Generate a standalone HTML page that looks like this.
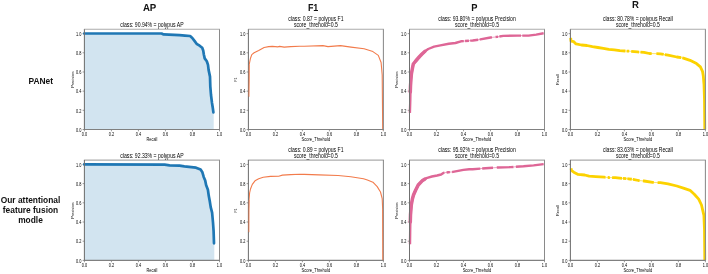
<!DOCTYPE html><html><head><meta charset="utf-8"><style>html,body{margin:0;padding:0;background:#fff;width:708px;height:274px;overflow:hidden}svg{display:block;filter:blur(0.25px)}text{font-family:"Liberation Sans",sans-serif}</style></head><body>
<svg width="708" height="274" viewBox="0 0 708 274">
<rect width="708" height="274" fill="#fff"/>
<polygon points="84.2,129.5 84.2,33.5 161.6,33.5 163.6,34.4 179.5,35.1 185,35.6 190.1,36 192.3,38 194.5,40.9 196.6,43.8 199.6,45.7 202.2,47.8 203.2,50.4 203.9,54.7 204.7,58.4 206.8,61.3 208,64.9 208.6,69.9 210,76.6 210.3,86.3 211,95 212,103 212.8,108 213.4,112.4 213.7,112.4 213.7,129.5" fill="#d2e4f0"/>
<polygon points="84.2,260.4 84.2,164.4 164.6,164.6 169.6,165.4 179.5,165.7 184.4,166.4 191.3,167.1 196,167.7 200.6,169.6 202.4,172.3 203.7,176.9 205.2,180.6 206.1,185.1 207.9,189.7 208.8,196.1 209.7,200.7 210.7,207.1 212.1,212.6 213,222.5 213.6,231.2 214,243.3 214.3,243.3 214.3,260.4" fill="#d2e4f0"/>
<line x1="84.4" y1="129.5" x2="84.4" y2="131.3" stroke="#707070" stroke-width="0.7"/>
<line x1="82.6" y1="129.5" x2="84.4" y2="129.5" stroke="#707070" stroke-width="0.7"/>
<text x="84.4" y="135.9" font-size="4.8" text-anchor="middle" textLength="5.4" lengthAdjust="spacingAndGlyphs" fill="#000">0.0</text>
<text x="81.4" y="131.7" font-size="4.8" text-anchor="end" textLength="5.4" lengthAdjust="spacingAndGlyphs" fill="#000">0.0</text>
<line x1="111.42" y1="129.5" x2="111.42" y2="131.3" stroke="#707070" stroke-width="0.7"/>
<line x1="82.6" y1="110.32" x2="84.4" y2="110.32" stroke="#707070" stroke-width="0.7"/>
<text x="111.42" y="135.9" font-size="4.8" text-anchor="middle" textLength="5.4" lengthAdjust="spacingAndGlyphs" fill="#000">0.2</text>
<text x="81.4" y="112.52" font-size="4.8" text-anchor="end" textLength="5.4" lengthAdjust="spacingAndGlyphs" fill="#000">0.2</text>
<line x1="138.44" y1="129.5" x2="138.44" y2="131.3" stroke="#707070" stroke-width="0.7"/>
<line x1="82.6" y1="91.15" x2="84.4" y2="91.15" stroke="#707070" stroke-width="0.7"/>
<text x="138.44" y="135.9" font-size="4.8" text-anchor="middle" textLength="5.4" lengthAdjust="spacingAndGlyphs" fill="#000">0.4</text>
<text x="81.4" y="93.35" font-size="4.8" text-anchor="end" textLength="5.4" lengthAdjust="spacingAndGlyphs" fill="#000">0.4</text>
<line x1="165.46" y1="129.5" x2="165.46" y2="131.3" stroke="#707070" stroke-width="0.7"/>
<line x1="82.6" y1="71.97" x2="84.4" y2="71.97" stroke="#707070" stroke-width="0.7"/>
<text x="165.46" y="135.9" font-size="4.8" text-anchor="middle" textLength="5.4" lengthAdjust="spacingAndGlyphs" fill="#000">0.6</text>
<text x="81.4" y="74.17" font-size="4.8" text-anchor="end" textLength="5.4" lengthAdjust="spacingAndGlyphs" fill="#000">0.6</text>
<line x1="192.48" y1="129.5" x2="192.48" y2="131.3" stroke="#707070" stroke-width="0.7"/>
<line x1="82.6" y1="52.79" x2="84.4" y2="52.79" stroke="#707070" stroke-width="0.7"/>
<text x="192.48" y="135.9" font-size="4.8" text-anchor="middle" textLength="5.4" lengthAdjust="spacingAndGlyphs" fill="#000">0.8</text>
<text x="81.4" y="54.99" font-size="4.8" text-anchor="end" textLength="5.4" lengthAdjust="spacingAndGlyphs" fill="#000">0.8</text>
<line x1="219.5" y1="129.5" x2="219.5" y2="131.3" stroke="#707070" stroke-width="0.7"/>
<line x1="82.6" y1="33.61" x2="84.4" y2="33.61" stroke="#707070" stroke-width="0.7"/>
<text x="219.5" y="135.9" font-size="4.8" text-anchor="middle" textLength="5.4" lengthAdjust="spacingAndGlyphs" fill="#000">1.0</text>
<text x="81.4" y="35.81" font-size="4.8" text-anchor="end" textLength="5.4" lengthAdjust="spacingAndGlyphs" fill="#000">1.0</text>
<line x1="84.4" y1="260.4" x2="84.4" y2="262.2" stroke="#707070" stroke-width="0.7"/>
<line x1="82.6" y1="260.4" x2="84.4" y2="260.4" stroke="#707070" stroke-width="0.7"/>
<text x="84.4" y="266.8" font-size="4.8" text-anchor="middle" textLength="5.4" lengthAdjust="spacingAndGlyphs" fill="#000">0.0</text>
<text x="81.4" y="262.6" font-size="4.8" text-anchor="end" textLength="5.4" lengthAdjust="spacingAndGlyphs" fill="#000">0.0</text>
<line x1="111.42" y1="260.4" x2="111.42" y2="262.2" stroke="#707070" stroke-width="0.7"/>
<line x1="82.6" y1="241.2" x2="84.4" y2="241.2" stroke="#707070" stroke-width="0.7"/>
<text x="111.42" y="266.8" font-size="4.8" text-anchor="middle" textLength="5.4" lengthAdjust="spacingAndGlyphs" fill="#000">0.2</text>
<text x="81.4" y="243.4" font-size="4.8" text-anchor="end" textLength="5.4" lengthAdjust="spacingAndGlyphs" fill="#000">0.2</text>
<line x1="138.44" y1="260.4" x2="138.44" y2="262.2" stroke="#707070" stroke-width="0.7"/>
<line x1="82.6" y1="222.01" x2="84.4" y2="222.01" stroke="#707070" stroke-width="0.7"/>
<text x="138.44" y="266.8" font-size="4.8" text-anchor="middle" textLength="5.4" lengthAdjust="spacingAndGlyphs" fill="#000">0.4</text>
<text x="81.4" y="224.21" font-size="4.8" text-anchor="end" textLength="5.4" lengthAdjust="spacingAndGlyphs" fill="#000">0.4</text>
<line x1="165.46" y1="260.4" x2="165.46" y2="262.2" stroke="#707070" stroke-width="0.7"/>
<line x1="82.6" y1="202.81" x2="84.4" y2="202.81" stroke="#707070" stroke-width="0.7"/>
<text x="165.46" y="266.8" font-size="4.8" text-anchor="middle" textLength="5.4" lengthAdjust="spacingAndGlyphs" fill="#000">0.6</text>
<text x="81.4" y="205.01" font-size="4.8" text-anchor="end" textLength="5.4" lengthAdjust="spacingAndGlyphs" fill="#000">0.6</text>
<line x1="192.48" y1="260.4" x2="192.48" y2="262.2" stroke="#707070" stroke-width="0.7"/>
<line x1="82.6" y1="183.62" x2="84.4" y2="183.62" stroke="#707070" stroke-width="0.7"/>
<text x="192.48" y="266.8" font-size="4.8" text-anchor="middle" textLength="5.4" lengthAdjust="spacingAndGlyphs" fill="#000">0.8</text>
<text x="81.4" y="185.82" font-size="4.8" text-anchor="end" textLength="5.4" lengthAdjust="spacingAndGlyphs" fill="#000">0.8</text>
<line x1="219.5" y1="260.4" x2="219.5" y2="262.2" stroke="#707070" stroke-width="0.7"/>
<line x1="82.6" y1="164.42" x2="84.4" y2="164.42" stroke="#707070" stroke-width="0.7"/>
<text x="219.5" y="266.8" font-size="4.8" text-anchor="middle" textLength="5.4" lengthAdjust="spacingAndGlyphs" fill="#000">1.0</text>
<text x="81.4" y="166.62" font-size="4.8" text-anchor="end" textLength="5.4" lengthAdjust="spacingAndGlyphs" fill="#000">1.0</text>
<line x1="248.4" y1="129.5" x2="248.4" y2="131.3" stroke="#707070" stroke-width="0.7"/>
<line x1="246.6" y1="129.5" x2="248.4" y2="129.5" stroke="#707070" stroke-width="0.7"/>
<text x="248.4" y="135.9" font-size="4.8" text-anchor="middle" textLength="5.4" lengthAdjust="spacingAndGlyphs" fill="#000">0.0</text>
<text x="245.4" y="131.7" font-size="4.8" text-anchor="end" textLength="5.4" lengthAdjust="spacingAndGlyphs" fill="#000">0.0</text>
<line x1="275.4" y1="129.5" x2="275.4" y2="131.3" stroke="#707070" stroke-width="0.7"/>
<line x1="246.6" y1="110.32" x2="248.4" y2="110.32" stroke="#707070" stroke-width="0.7"/>
<text x="275.4" y="135.9" font-size="4.8" text-anchor="middle" textLength="5.4" lengthAdjust="spacingAndGlyphs" fill="#000">0.2</text>
<text x="245.4" y="112.52" font-size="4.8" text-anchor="end" textLength="5.4" lengthAdjust="spacingAndGlyphs" fill="#000">0.2</text>
<line x1="302.4" y1="129.5" x2="302.4" y2="131.3" stroke="#707070" stroke-width="0.7"/>
<line x1="246.6" y1="91.15" x2="248.4" y2="91.15" stroke="#707070" stroke-width="0.7"/>
<text x="302.4" y="135.9" font-size="4.8" text-anchor="middle" textLength="5.4" lengthAdjust="spacingAndGlyphs" fill="#000">0.4</text>
<text x="245.4" y="93.35" font-size="4.8" text-anchor="end" textLength="5.4" lengthAdjust="spacingAndGlyphs" fill="#000">0.4</text>
<line x1="329.4" y1="129.5" x2="329.4" y2="131.3" stroke="#707070" stroke-width="0.7"/>
<line x1="246.6" y1="71.97" x2="248.4" y2="71.97" stroke="#707070" stroke-width="0.7"/>
<text x="329.4" y="135.9" font-size="4.8" text-anchor="middle" textLength="5.4" lengthAdjust="spacingAndGlyphs" fill="#000">0.6</text>
<text x="245.4" y="74.17" font-size="4.8" text-anchor="end" textLength="5.4" lengthAdjust="spacingAndGlyphs" fill="#000">0.6</text>
<line x1="356.4" y1="129.5" x2="356.4" y2="131.3" stroke="#707070" stroke-width="0.7"/>
<line x1="246.6" y1="52.79" x2="248.4" y2="52.79" stroke="#707070" stroke-width="0.7"/>
<text x="356.4" y="135.9" font-size="4.8" text-anchor="middle" textLength="5.4" lengthAdjust="spacingAndGlyphs" fill="#000">0.8</text>
<text x="245.4" y="54.99" font-size="4.8" text-anchor="end" textLength="5.4" lengthAdjust="spacingAndGlyphs" fill="#000">0.8</text>
<line x1="383.4" y1="129.5" x2="383.4" y2="131.3" stroke="#707070" stroke-width="0.7"/>
<line x1="246.6" y1="33.61" x2="248.4" y2="33.61" stroke="#707070" stroke-width="0.7"/>
<text x="383.4" y="135.9" font-size="4.8" text-anchor="middle" textLength="5.4" lengthAdjust="spacingAndGlyphs" fill="#000">1.0</text>
<text x="245.4" y="35.81" font-size="4.8" text-anchor="end" textLength="5.4" lengthAdjust="spacingAndGlyphs" fill="#000">1.0</text>
<line x1="248.4" y1="260.4" x2="248.4" y2="262.2" stroke="#707070" stroke-width="0.7"/>
<line x1="246.6" y1="260.4" x2="248.4" y2="260.4" stroke="#707070" stroke-width="0.7"/>
<text x="248.4" y="266.8" font-size="4.8" text-anchor="middle" textLength="5.4" lengthAdjust="spacingAndGlyphs" fill="#000">0.0</text>
<text x="245.4" y="262.6" font-size="4.8" text-anchor="end" textLength="5.4" lengthAdjust="spacingAndGlyphs" fill="#000">0.0</text>
<line x1="275.4" y1="260.4" x2="275.4" y2="262.2" stroke="#707070" stroke-width="0.7"/>
<line x1="246.6" y1="241.2" x2="248.4" y2="241.2" stroke="#707070" stroke-width="0.7"/>
<text x="275.4" y="266.8" font-size="4.8" text-anchor="middle" textLength="5.4" lengthAdjust="spacingAndGlyphs" fill="#000">0.2</text>
<text x="245.4" y="243.4" font-size="4.8" text-anchor="end" textLength="5.4" lengthAdjust="spacingAndGlyphs" fill="#000">0.2</text>
<line x1="302.4" y1="260.4" x2="302.4" y2="262.2" stroke="#707070" stroke-width="0.7"/>
<line x1="246.6" y1="222.01" x2="248.4" y2="222.01" stroke="#707070" stroke-width="0.7"/>
<text x="302.4" y="266.8" font-size="4.8" text-anchor="middle" textLength="5.4" lengthAdjust="spacingAndGlyphs" fill="#000">0.4</text>
<text x="245.4" y="224.21" font-size="4.8" text-anchor="end" textLength="5.4" lengthAdjust="spacingAndGlyphs" fill="#000">0.4</text>
<line x1="329.4" y1="260.4" x2="329.4" y2="262.2" stroke="#707070" stroke-width="0.7"/>
<line x1="246.6" y1="202.81" x2="248.4" y2="202.81" stroke="#707070" stroke-width="0.7"/>
<text x="329.4" y="266.8" font-size="4.8" text-anchor="middle" textLength="5.4" lengthAdjust="spacingAndGlyphs" fill="#000">0.6</text>
<text x="245.4" y="205.01" font-size="4.8" text-anchor="end" textLength="5.4" lengthAdjust="spacingAndGlyphs" fill="#000">0.6</text>
<line x1="356.4" y1="260.4" x2="356.4" y2="262.2" stroke="#707070" stroke-width="0.7"/>
<line x1="246.6" y1="183.62" x2="248.4" y2="183.62" stroke="#707070" stroke-width="0.7"/>
<text x="356.4" y="266.8" font-size="4.8" text-anchor="middle" textLength="5.4" lengthAdjust="spacingAndGlyphs" fill="#000">0.8</text>
<text x="245.4" y="185.82" font-size="4.8" text-anchor="end" textLength="5.4" lengthAdjust="spacingAndGlyphs" fill="#000">0.8</text>
<line x1="383.4" y1="260.4" x2="383.4" y2="262.2" stroke="#707070" stroke-width="0.7"/>
<line x1="246.6" y1="164.42" x2="248.4" y2="164.42" stroke="#707070" stroke-width="0.7"/>
<text x="383.4" y="266.8" font-size="4.8" text-anchor="middle" textLength="5.4" lengthAdjust="spacingAndGlyphs" fill="#000">1.0</text>
<text x="245.4" y="166.62" font-size="4.8" text-anchor="end" textLength="5.4" lengthAdjust="spacingAndGlyphs" fill="#000">1.0</text>
<line x1="409.5" y1="129.5" x2="409.5" y2="131.3" stroke="#707070" stroke-width="0.7"/>
<line x1="407.7" y1="129.5" x2="409.5" y2="129.5" stroke="#707070" stroke-width="0.7"/>
<text x="409.5" y="135.9" font-size="4.8" text-anchor="middle" textLength="5.4" lengthAdjust="spacingAndGlyphs" fill="#000">0.0</text>
<text x="406.5" y="131.7" font-size="4.8" text-anchor="end" textLength="5.4" lengthAdjust="spacingAndGlyphs" fill="#000">0.0</text>
<line x1="436.5" y1="129.5" x2="436.5" y2="131.3" stroke="#707070" stroke-width="0.7"/>
<line x1="407.7" y1="110.32" x2="409.5" y2="110.32" stroke="#707070" stroke-width="0.7"/>
<text x="436.5" y="135.9" font-size="4.8" text-anchor="middle" textLength="5.4" lengthAdjust="spacingAndGlyphs" fill="#000">0.2</text>
<text x="406.5" y="112.52" font-size="4.8" text-anchor="end" textLength="5.4" lengthAdjust="spacingAndGlyphs" fill="#000">0.2</text>
<line x1="463.5" y1="129.5" x2="463.5" y2="131.3" stroke="#707070" stroke-width="0.7"/>
<line x1="407.7" y1="91.15" x2="409.5" y2="91.15" stroke="#707070" stroke-width="0.7"/>
<text x="463.5" y="135.9" font-size="4.8" text-anchor="middle" textLength="5.4" lengthAdjust="spacingAndGlyphs" fill="#000">0.4</text>
<text x="406.5" y="93.35" font-size="4.8" text-anchor="end" textLength="5.4" lengthAdjust="spacingAndGlyphs" fill="#000">0.4</text>
<line x1="490.5" y1="129.5" x2="490.5" y2="131.3" stroke="#707070" stroke-width="0.7"/>
<line x1="407.7" y1="71.97" x2="409.5" y2="71.97" stroke="#707070" stroke-width="0.7"/>
<text x="490.5" y="135.9" font-size="4.8" text-anchor="middle" textLength="5.4" lengthAdjust="spacingAndGlyphs" fill="#000">0.6</text>
<text x="406.5" y="74.17" font-size="4.8" text-anchor="end" textLength="5.4" lengthAdjust="spacingAndGlyphs" fill="#000">0.6</text>
<line x1="517.5" y1="129.5" x2="517.5" y2="131.3" stroke="#707070" stroke-width="0.7"/>
<line x1="407.7" y1="52.79" x2="409.5" y2="52.79" stroke="#707070" stroke-width="0.7"/>
<text x="517.5" y="135.9" font-size="4.8" text-anchor="middle" textLength="5.4" lengthAdjust="spacingAndGlyphs" fill="#000">0.8</text>
<text x="406.5" y="54.99" font-size="4.8" text-anchor="end" textLength="5.4" lengthAdjust="spacingAndGlyphs" fill="#000">0.8</text>
<line x1="544.5" y1="129.5" x2="544.5" y2="131.3" stroke="#707070" stroke-width="0.7"/>
<line x1="407.7" y1="33.61" x2="409.5" y2="33.61" stroke="#707070" stroke-width="0.7"/>
<text x="544.5" y="135.9" font-size="4.8" text-anchor="middle" textLength="5.4" lengthAdjust="spacingAndGlyphs" fill="#000">1.0</text>
<text x="406.5" y="35.81" font-size="4.8" text-anchor="end" textLength="5.4" lengthAdjust="spacingAndGlyphs" fill="#000">1.0</text>
<line x1="409.5" y1="260.4" x2="409.5" y2="262.2" stroke="#707070" stroke-width="0.7"/>
<line x1="407.7" y1="260.4" x2="409.5" y2="260.4" stroke="#707070" stroke-width="0.7"/>
<text x="409.5" y="266.8" font-size="4.8" text-anchor="middle" textLength="5.4" lengthAdjust="spacingAndGlyphs" fill="#000">0.0</text>
<text x="406.5" y="262.6" font-size="4.8" text-anchor="end" textLength="5.4" lengthAdjust="spacingAndGlyphs" fill="#000">0.0</text>
<line x1="436.5" y1="260.4" x2="436.5" y2="262.2" stroke="#707070" stroke-width="0.7"/>
<line x1="407.7" y1="241.2" x2="409.5" y2="241.2" stroke="#707070" stroke-width="0.7"/>
<text x="436.5" y="266.8" font-size="4.8" text-anchor="middle" textLength="5.4" lengthAdjust="spacingAndGlyphs" fill="#000">0.2</text>
<text x="406.5" y="243.4" font-size="4.8" text-anchor="end" textLength="5.4" lengthAdjust="spacingAndGlyphs" fill="#000">0.2</text>
<line x1="463.5" y1="260.4" x2="463.5" y2="262.2" stroke="#707070" stroke-width="0.7"/>
<line x1="407.7" y1="222.01" x2="409.5" y2="222.01" stroke="#707070" stroke-width="0.7"/>
<text x="463.5" y="266.8" font-size="4.8" text-anchor="middle" textLength="5.4" lengthAdjust="spacingAndGlyphs" fill="#000">0.4</text>
<text x="406.5" y="224.21" font-size="4.8" text-anchor="end" textLength="5.4" lengthAdjust="spacingAndGlyphs" fill="#000">0.4</text>
<line x1="490.5" y1="260.4" x2="490.5" y2="262.2" stroke="#707070" stroke-width="0.7"/>
<line x1="407.7" y1="202.81" x2="409.5" y2="202.81" stroke="#707070" stroke-width="0.7"/>
<text x="490.5" y="266.8" font-size="4.8" text-anchor="middle" textLength="5.4" lengthAdjust="spacingAndGlyphs" fill="#000">0.6</text>
<text x="406.5" y="205.01" font-size="4.8" text-anchor="end" textLength="5.4" lengthAdjust="spacingAndGlyphs" fill="#000">0.6</text>
<line x1="517.5" y1="260.4" x2="517.5" y2="262.2" stroke="#707070" stroke-width="0.7"/>
<line x1="407.7" y1="183.62" x2="409.5" y2="183.62" stroke="#707070" stroke-width="0.7"/>
<text x="517.5" y="266.8" font-size="4.8" text-anchor="middle" textLength="5.4" lengthAdjust="spacingAndGlyphs" fill="#000">0.8</text>
<text x="406.5" y="185.82" font-size="4.8" text-anchor="end" textLength="5.4" lengthAdjust="spacingAndGlyphs" fill="#000">0.8</text>
<line x1="544.5" y1="260.4" x2="544.5" y2="262.2" stroke="#707070" stroke-width="0.7"/>
<line x1="407.7" y1="164.42" x2="409.5" y2="164.42" stroke="#707070" stroke-width="0.7"/>
<text x="544.5" y="266.8" font-size="4.8" text-anchor="middle" textLength="5.4" lengthAdjust="spacingAndGlyphs" fill="#000">1.0</text>
<text x="406.5" y="166.62" font-size="4.8" text-anchor="end" textLength="5.4" lengthAdjust="spacingAndGlyphs" fill="#000">1.0</text>
<line x1="570.4" y1="129.5" x2="570.4" y2="131.3" stroke="#707070" stroke-width="0.7"/>
<line x1="568.6" y1="129.5" x2="570.4" y2="129.5" stroke="#707070" stroke-width="0.7"/>
<text x="570.4" y="135.9" font-size="4.8" text-anchor="middle" textLength="5.4" lengthAdjust="spacingAndGlyphs" fill="#000">0.0</text>
<text x="567.4" y="131.7" font-size="4.8" text-anchor="end" textLength="5.4" lengthAdjust="spacingAndGlyphs" fill="#000">0.0</text>
<line x1="597.4" y1="129.5" x2="597.4" y2="131.3" stroke="#707070" stroke-width="0.7"/>
<line x1="568.6" y1="110.32" x2="570.4" y2="110.32" stroke="#707070" stroke-width="0.7"/>
<text x="597.4" y="135.9" font-size="4.8" text-anchor="middle" textLength="5.4" lengthAdjust="spacingAndGlyphs" fill="#000">0.2</text>
<text x="567.4" y="112.52" font-size="4.8" text-anchor="end" textLength="5.4" lengthAdjust="spacingAndGlyphs" fill="#000">0.2</text>
<line x1="624.4" y1="129.5" x2="624.4" y2="131.3" stroke="#707070" stroke-width="0.7"/>
<line x1="568.6" y1="91.15" x2="570.4" y2="91.15" stroke="#707070" stroke-width="0.7"/>
<text x="624.4" y="135.9" font-size="4.8" text-anchor="middle" textLength="5.4" lengthAdjust="spacingAndGlyphs" fill="#000">0.4</text>
<text x="567.4" y="93.35" font-size="4.8" text-anchor="end" textLength="5.4" lengthAdjust="spacingAndGlyphs" fill="#000">0.4</text>
<line x1="651.4" y1="129.5" x2="651.4" y2="131.3" stroke="#707070" stroke-width="0.7"/>
<line x1="568.6" y1="71.97" x2="570.4" y2="71.97" stroke="#707070" stroke-width="0.7"/>
<text x="651.4" y="135.9" font-size="4.8" text-anchor="middle" textLength="5.4" lengthAdjust="spacingAndGlyphs" fill="#000">0.6</text>
<text x="567.4" y="74.17" font-size="4.8" text-anchor="end" textLength="5.4" lengthAdjust="spacingAndGlyphs" fill="#000">0.6</text>
<line x1="678.4" y1="129.5" x2="678.4" y2="131.3" stroke="#707070" stroke-width="0.7"/>
<line x1="568.6" y1="52.79" x2="570.4" y2="52.79" stroke="#707070" stroke-width="0.7"/>
<text x="678.4" y="135.9" font-size="4.8" text-anchor="middle" textLength="5.4" lengthAdjust="spacingAndGlyphs" fill="#000">0.8</text>
<text x="567.4" y="54.99" font-size="4.8" text-anchor="end" textLength="5.4" lengthAdjust="spacingAndGlyphs" fill="#000">0.8</text>
<line x1="705.4" y1="129.5" x2="705.4" y2="131.3" stroke="#707070" stroke-width="0.7"/>
<line x1="568.6" y1="33.61" x2="570.4" y2="33.61" stroke="#707070" stroke-width="0.7"/>
<text x="705.4" y="135.9" font-size="4.8" text-anchor="middle" textLength="5.4" lengthAdjust="spacingAndGlyphs" fill="#000">1.0</text>
<text x="567.4" y="35.81" font-size="4.8" text-anchor="end" textLength="5.4" lengthAdjust="spacingAndGlyphs" fill="#000">1.0</text>
<line x1="570.4" y1="260.4" x2="570.4" y2="262.2" stroke="#707070" stroke-width="0.7"/>
<line x1="568.6" y1="260.4" x2="570.4" y2="260.4" stroke="#707070" stroke-width="0.7"/>
<text x="570.4" y="266.8" font-size="4.8" text-anchor="middle" textLength="5.4" lengthAdjust="spacingAndGlyphs" fill="#000">0.0</text>
<text x="567.4" y="262.6" font-size="4.8" text-anchor="end" textLength="5.4" lengthAdjust="spacingAndGlyphs" fill="#000">0.0</text>
<line x1="597.4" y1="260.4" x2="597.4" y2="262.2" stroke="#707070" stroke-width="0.7"/>
<line x1="568.6" y1="241.2" x2="570.4" y2="241.2" stroke="#707070" stroke-width="0.7"/>
<text x="597.4" y="266.8" font-size="4.8" text-anchor="middle" textLength="5.4" lengthAdjust="spacingAndGlyphs" fill="#000">0.2</text>
<text x="567.4" y="243.4" font-size="4.8" text-anchor="end" textLength="5.4" lengthAdjust="spacingAndGlyphs" fill="#000">0.2</text>
<line x1="624.4" y1="260.4" x2="624.4" y2="262.2" stroke="#707070" stroke-width="0.7"/>
<line x1="568.6" y1="222.01" x2="570.4" y2="222.01" stroke="#707070" stroke-width="0.7"/>
<text x="624.4" y="266.8" font-size="4.8" text-anchor="middle" textLength="5.4" lengthAdjust="spacingAndGlyphs" fill="#000">0.4</text>
<text x="567.4" y="224.21" font-size="4.8" text-anchor="end" textLength="5.4" lengthAdjust="spacingAndGlyphs" fill="#000">0.4</text>
<line x1="651.4" y1="260.4" x2="651.4" y2="262.2" stroke="#707070" stroke-width="0.7"/>
<line x1="568.6" y1="202.81" x2="570.4" y2="202.81" stroke="#707070" stroke-width="0.7"/>
<text x="651.4" y="266.8" font-size="4.8" text-anchor="middle" textLength="5.4" lengthAdjust="spacingAndGlyphs" fill="#000">0.6</text>
<text x="567.4" y="205.01" font-size="4.8" text-anchor="end" textLength="5.4" lengthAdjust="spacingAndGlyphs" fill="#000">0.6</text>
<line x1="678.4" y1="260.4" x2="678.4" y2="262.2" stroke="#707070" stroke-width="0.7"/>
<line x1="568.6" y1="183.62" x2="570.4" y2="183.62" stroke="#707070" stroke-width="0.7"/>
<text x="678.4" y="266.8" font-size="4.8" text-anchor="middle" textLength="5.4" lengthAdjust="spacingAndGlyphs" fill="#000">0.8</text>
<text x="567.4" y="185.82" font-size="4.8" text-anchor="end" textLength="5.4" lengthAdjust="spacingAndGlyphs" fill="#000">0.8</text>
<line x1="705.4" y1="260.4" x2="705.4" y2="262.2" stroke="#707070" stroke-width="0.7"/>
<line x1="568.6" y1="164.42" x2="570.4" y2="164.42" stroke="#707070" stroke-width="0.7"/>
<text x="705.4" y="266.8" font-size="4.8" text-anchor="middle" textLength="5.4" lengthAdjust="spacingAndGlyphs" fill="#000">1.0</text>
<text x="567.4" y="166.62" font-size="4.8" text-anchor="end" textLength="5.4" lengthAdjust="spacingAndGlyphs" fill="#000">1.0</text>
<polyline points="84.2,33.5 161.6,33.5 163.6,34.4 179.5,35.1 185,35.6 190.1,36 192.3,38 194.5,40.9 196.6,43.8 199.6,45.7 202.2,47.8 203.2,50.4 203.9,54.7 204.7,58.4 206.8,61.3 208,64.9 208.6,69.9 210,76.6 210.3,86.3 211,95 212,103 212.8,108 213.4,112.4" fill="none" stroke="#1f77b4" stroke-width="2.7" stroke-linejoin="round" stroke-linecap="round"/>
<polyline points="84.2,164.4 164.6,164.6 169.6,165.4 179.5,165.7 184.4,166.4 191.3,167.1 196,167.7 200.6,169.6 202.4,172.3 203.7,176.9 205.2,180.6 206.1,185.1 207.9,189.7 208.8,196.1 209.7,200.7 210.7,207.1 212.1,212.6 213,222.5 213.6,231.2 214,243.3" fill="none" stroke="#1f77b4" stroke-width="2.7" stroke-linejoin="round" stroke-linecap="round"/>
<polyline points="248.75,96.5 249,80 249.1,65 250.5,58.2 251.8,54.6 254.1,52.8 258.7,50.5 264.1,47.5 268.7,46.6 272.3,46.4 277.8,46.9 279.6,46.4 284.2,47.1 290.6,46.6 299.7,46.2 304.3,46.2 322.9,45.6 328,46.6 340.5,45.6 351,47.1 364.1,48.8 372.9,51.6 378.3,55.4 381.1,62.5 382.2,75 382.7,129.7" fill="none" stroke="#f27b4b" stroke-width="1.1" stroke-linejoin="round" stroke-linecap="round"/>
<polyline points="248.7,232 248.8,210 249,200 249.6,193 250.5,189 252.3,184.4 255,180.8 258.7,178.8 263.2,177.3 270.5,176.4 278.7,176.2 282.4,175.1 290.6,174.6 299.7,174.2 304.3,174.4 319,174.9 338.1,175.5 350.8,176.8 363.5,178.7 367.4,180 372.9,182.2 377.2,186.6 380.5,192 382.2,198.6 382.7,210 382.9,260.2" fill="none" stroke="#f27b4b" stroke-width="1.1" stroke-linejoin="round" stroke-linecap="round"/>
<polyline points="409.9,112.9 410.3,100 410.5,90 410.9,80 411.4,74 412.3,69 413.3,64 415.3,61.5 417.4,59 419.6,56.5 422,54 425,51.3 428.2,49 434.1,46.6 440.4,45.4 448.8,43.8 455.4,43 461,41.3 472.7,40.5 480.3,39.4 490.5,37.5 496.8,36.9 503.2,35.9 517.2,35.6 528.6,35.6 536.2,34.6 543.6,33.3" fill="none" stroke="#de6696" stroke-width="1" stroke-linejoin="round" opacity="0.6"/>
<polyline points="409.9,112.9 410.3,100 410.5,90 410.9,80 411.4,74 412.3,69 413.3,64 415.3,61.5 417.4,59 419.6,56.5 422,54 425,51.3 428.2,49 434.1,46.6 440.4,45.4 448.8,43.8 455.4,43 461,41.3 463.8,41.11" fill="none" stroke="#de6696" stroke-width="2.4" stroke-linejoin="round" stroke-linecap="butt"/>
<polyline points="465.1,41.02 468.9,40.76" fill="none" stroke="#de6696" stroke-width="2.4" stroke-linejoin="round" stroke-linecap="butt"/>
<polyline points="470.2,40.67 472.7,40.5 478.2,39.7" fill="none" stroke="#de6696" stroke-width="2.4" stroke-linejoin="round" stroke-linecap="butt"/>
<polyline points="479.7,39.49 480.3,39.4 490.5,37.5 492,37.36" fill="none" stroke="#de6696" stroke-width="2.4" stroke-linejoin="round" stroke-linecap="butt"/>
<polyline points="495.6,37.01 496.8,36.9 498.1,36.7" fill="none" stroke="#de6696" stroke-width="2.4" stroke-linejoin="round" stroke-linecap="butt"/>
<polyline points="499.4,36.49 503.2,35.9 517.2,35.6 521,35.6" fill="none" stroke="#de6696" stroke-width="2.4" stroke-linejoin="round" stroke-linecap="butt"/>
<polyline points="522.3,35.6 528.6,35.6 536.2,34.6 543.6,33.3" fill="none" stroke="#de6696" stroke-width="2.4" stroke-linejoin="round" stroke-linecap="butt"/>
<polyline points="410,244.2 410.2,230 410.5,215 411.3,205 412.4,199 413.5,195 415.7,190 418.2,185 422.6,180.4 427.3,177.8 431.9,176.5 437.1,175.5 441.1,174.5 443.4,172.9 448.3,172.2 452.9,171.9 458.2,170.9 463.4,169.9 469.3,169.3 472.7,169.2 485.4,168.2 498.1,167.5 510.8,167.1 523.5,166.3 533.7,165.4 543.6,164.1" fill="none" stroke="#de6696" stroke-width="1" stroke-linejoin="round" opacity="0.6"/>
<polyline points="410,244.2 410.2,230 410.5,215 411.3,205 412.4,199 413.5,195 415.7,190 418.2,185 422.6,180.4 427.3,177.8 431.9,176.5 437.1,175.5 441.1,174.5 443.4,172.9 444.4,172.76" fill="none" stroke="#de6696" stroke-width="2.4" stroke-linejoin="round" stroke-linecap="butt"/>
<polyline points="446.6,172.44 448.3,172.2 449.9,172.1" fill="none" stroke="#de6696" stroke-width="2.4" stroke-linejoin="round" stroke-linecap="butt"/>
<polyline points="452.1,171.95 452.9,171.9 458.2,170.9 463.4,169.9 469.3,169.3 472.7,169.2 480.3,168.6" fill="none" stroke="#de6696" stroke-width="2.4" stroke-linejoin="round" stroke-linecap="butt"/>
<polyline points="482.2,168.45 485.4,168.2 493,167.78" fill="none" stroke="#de6696" stroke-width="2.4" stroke-linejoin="round" stroke-linecap="butt"/>
<polyline points="496.8,167.57 498.1,167.5 510.8,167.1 513.4,166.94" fill="none" stroke="#de6696" stroke-width="2.4" stroke-linejoin="round" stroke-linecap="butt"/>
<polyline points="515.9,166.78 523.5,166.3 533.7,165.4 543.6,164.1" fill="none" stroke="#de6696" stroke-width="2.4" stroke-linejoin="round" stroke-linecap="butt"/>
<polyline points="570.7,37.9 571,41.1 573.8,41.7 576,43.9 581.4,45 586.9,45.5 592.4,46.6 597.9,47.5 603.3,48.3 608.8,49.4 614.3,49.9 619.8,50.7 625.2,51 630.7,51.3 637.3,51.9 644,52.4 649.4,53.5 660.4,53.8 668,55.1 676.8,57 683.4,58.1 690,60.3 696.5,63.6 700.4,66.9 702.5,71.3 703.3,76 704,84.3 704.5,100 704.8,129.5" fill="none" stroke="#fcd200" stroke-width="1" stroke-linejoin="round" opacity="0.6"/>
<polyline points="570.7,37.9 571,41.1 573.8,41.7 576,43.9 581.4,45 586.9,45.5 592.4,46.6 597.9,47.5 603.3,48.3 608.8,49.4 614.3,49.9 619.8,50.7 625.2,51 625.4,51.01" fill="none" stroke="#fcd200" stroke-width="2.8" stroke-linejoin="round" stroke-linecap="butt"/>
<polyline points="626.7,51.08 629.2,51.22" fill="none" stroke="#fcd200" stroke-width="2.8" stroke-linejoin="round" stroke-linecap="butt"/>
<polyline points="631.2,51.35 637.3,51.9 639,52.03" fill="none" stroke="#fcd200" stroke-width="2.8" stroke-linejoin="round" stroke-linecap="butt"/>
<polyline points="640.5,52.14 644,52.4 649.4,53.5 651.7,53.56" fill="none" stroke="#fcd200" stroke-width="2.8" stroke-linejoin="round" stroke-linecap="butt"/>
<polyline points="656.4,53.69 660.4,53.8 663.7,54.36" fill="none" stroke="#fcd200" stroke-width="2.8" stroke-linejoin="round" stroke-linecap="butt"/>
<polyline points="664.8,54.55 668,55.1 676.8,57 681.2,57.73" fill="none" stroke="#fcd200" stroke-width="2.8" stroke-linejoin="round" stroke-linecap="butt"/>
<polyline points="682.3,57.92 683.4,58.1 690,60.3 696.5,63.6 700.4,66.9 702.5,71.3 703.3,76 704,84.3 704.5,100 704.8,129.5" fill="none" stroke="#fcd200" stroke-width="2.8" stroke-linejoin="round" stroke-linecap="butt"/>
<polyline points="571,168.4 571.6,170.6 573.8,172.2 578.1,174.4 584.7,175 589.1,176.1 595.7,176.6 604.4,177.2 608.8,177.5 615.4,177.7 622,178.3 628.5,178.8 633,179.4 638.5,180.5 644,181 652.7,182.4 660.4,182.7 668,183.8 676.8,186 683.4,188.1 690,190.3 694.3,194.2 698.7,199.1 701.5,205 703.9,215.4 704.5,230 704.8,260" fill="none" stroke="#fcd200" stroke-width="1" stroke-linejoin="round" opacity="0.6"/>
<polyline points="571,168.4 571.6,170.6 573.8,172.2 578.1,174.4 584.7,175 589.1,176.1 595.7,176.6 604.4,177.2 605.5,177.28" fill="none" stroke="#fcd200" stroke-width="2.8" stroke-linejoin="round" stroke-linecap="butt"/>
<polyline points="607.7,177.43 608.8,177.5 609.9,177.53" fill="none" stroke="#fcd200" stroke-width="2.8" stroke-linejoin="round" stroke-linecap="butt"/>
<polyline points="612.1,177.6 615.4,177.7 622,178.3 622,178.3" fill="none" stroke="#fcd200" stroke-width="2.8" stroke-linejoin="round" stroke-linecap="butt"/>
<polyline points="623,178.38 626.3,178.63" fill="none" stroke="#fcd200" stroke-width="2.8" stroke-linejoin="round" stroke-linecap="butt"/>
<polyline points="627.4,178.72 628.5,178.8 631.8,179.24" fill="none" stroke="#fcd200" stroke-width="2.8" stroke-linejoin="round" stroke-linecap="butt"/>
<polyline points="632.9,179.39 633,179.4 638.5,180.5 639.6,180.6" fill="none" stroke="#fcd200" stroke-width="2.8" stroke-linejoin="round" stroke-linecap="butt"/>
<polyline points="642.9,180.9 644,181 652.7,182.4 653.8,182.44" fill="none" stroke="#fcd200" stroke-width="2.8" stroke-linejoin="round" stroke-linecap="butt"/>
<polyline points="657.6,182.59 660.4,182.7 668,183.8 676.8,186 683.4,188.1 690,190.3 694.3,194.2 698.7,199.1 701.5,205 703.9,215.4 704.5,230 704.8,260" fill="none" stroke="#fcd200" stroke-width="2.8" stroke-linejoin="round" stroke-linecap="butt"/>
<polyline points="410.3,92 410.5,86 410.9,80 411.4,74 412.3,69 413.3,64 415.3,61.5 417.4,59 419.6,56.5 422,54 425,51.3" fill="none" stroke="#de6696" stroke-width="3.5" stroke-linejoin="round" stroke-linecap="round"/>
<polyline points="410.3,222 410.5,215 411.3,205 412.4,199 413.5,195 415.7,190 418.2,185 422.6,180.4 425,179" fill="none" stroke="#de6696" stroke-width="3.5" stroke-linejoin="round" stroke-linecap="round"/>
<path d="M83.9 29.3H220" fill="none" stroke="#ababab" stroke-width="1.1"/>
<path d="M83.9 129.5H220" fill="none" stroke="#808080" stroke-width="1.1"/>
<path d="M84.4 29.3V129.5" fill="none" stroke="#707070" stroke-width="1.05"/>
<path d="M219.5 29.3V129.5" fill="none" stroke="#8a8a8a" stroke-width="1.05"/>
<path d="M83.9 160.1H220" fill="none" stroke="#ababab" stroke-width="1.1"/>
<path d="M83.9 260.4H220" fill="none" stroke="#808080" stroke-width="1.1"/>
<path d="M84.4 160.1V260.4" fill="none" stroke="#707070" stroke-width="1.05"/>
<path d="M219.5 160.1V260.4" fill="none" stroke="#8a8a8a" stroke-width="1.05"/>
<path d="M247.9 29.3H383.9" fill="none" stroke="#ababab" stroke-width="1.1"/>
<path d="M247.9 129.5H383.9" fill="none" stroke="#808080" stroke-width="1.1"/>
<path d="M248.4 29.3V129.5" fill="none" stroke="#707070" stroke-width="1.05"/>
<path d="M383.4 29.3V129.5" fill="none" stroke="#8a8a8a" stroke-width="1.05"/>
<path d="M247.9 160.1H383.9" fill="none" stroke="#ababab" stroke-width="1.1"/>
<path d="M247.9 260.4H383.9" fill="none" stroke="#808080" stroke-width="1.1"/>
<path d="M248.4 160.1V260.4" fill="none" stroke="#707070" stroke-width="1.05"/>
<path d="M383.4 160.1V260.4" fill="none" stroke="#8a8a8a" stroke-width="1.05"/>
<path d="M409 29.3H545" fill="none" stroke="#ababab" stroke-width="1.1"/>
<path d="M409 129.5H545" fill="none" stroke="#808080" stroke-width="1.1"/>
<path d="M409.5 29.3V129.5" fill="none" stroke="#707070" stroke-width="1.05"/>
<path d="M544.5 29.3V129.5" fill="none" stroke="#8a8a8a" stroke-width="1.05"/>
<path d="M409 160.1H545" fill="none" stroke="#ababab" stroke-width="1.1"/>
<path d="M409 260.4H545" fill="none" stroke="#808080" stroke-width="1.1"/>
<path d="M409.5 160.1V260.4" fill="none" stroke="#707070" stroke-width="1.05"/>
<path d="M544.5 160.1V260.4" fill="none" stroke="#8a8a8a" stroke-width="1.05"/>
<path d="M569.9 29.3H705.9" fill="none" stroke="#ababab" stroke-width="1.1"/>
<path d="M569.9 129.5H705.9" fill="none" stroke="#808080" stroke-width="1.1"/>
<path d="M570.4 29.3V129.5" fill="none" stroke="#707070" stroke-width="1.05"/>
<path d="M705.4 29.3V129.5" fill="none" stroke="#8a8a8a" stroke-width="1.05"/>
<path d="M569.9 160.1H705.9" fill="none" stroke="#ababab" stroke-width="1.1"/>
<path d="M569.9 260.4H705.9" fill="none" stroke="#808080" stroke-width="1.1"/>
<path d="M570.4 160.1V260.4" fill="none" stroke="#707070" stroke-width="1.05"/>
<path d="M705.4 160.1V260.4" fill="none" stroke="#8a8a8a" stroke-width="1.05"/>
<polyline points="248.75,96.5 249,80 249.1,65" fill="none" stroke="#f27b4b" stroke-width="1" opacity="0.6"/>
<polyline points="382.7,129.7" fill="none" stroke="#f27b4b" stroke-width="1" opacity="0.6"/>
<polyline points="248.7,232 248.8,210 249,200" fill="none" stroke="#f27b4b" stroke-width="1" opacity="0.6"/>
<polyline points="382.7,210 382.9,260.2" fill="none" stroke="#f27b4b" stroke-width="1" opacity="0.6"/>
<text x="151.95" y="27" font-size="6.5" text-anchor="middle" textLength="63.3" lengthAdjust="spacingAndGlyphs" fill="#000">class: 90.94% = polypus AP</text>
<text x="315.9" y="21.1" font-size="6.5" text-anchor="middle" textLength="55.2" lengthAdjust="spacingAndGlyphs" fill="#000">class: 0.87 = polypus F1</text>
<text x="315.9" y="26.9" font-size="6.5" text-anchor="middle" textLength="44.0" lengthAdjust="spacingAndGlyphs" fill="#000">score_threhold=0.5</text>
<text x="477" y="21.1" font-size="6.5" text-anchor="middle" textLength="77.6" lengthAdjust="spacingAndGlyphs" fill="#000">class: 93.80% = polypus Precision</text>
<text x="477" y="26.9" font-size="6.5" text-anchor="middle" textLength="44.0" lengthAdjust="spacingAndGlyphs" fill="#000">score_threhold=0.5</text>
<text x="637.9" y="21.1" font-size="6.5" text-anchor="middle" textLength="69.9" lengthAdjust="spacingAndGlyphs" fill="#000">class: 80.78% = polypus Recall</text>
<text x="637.9" y="26.9" font-size="6.5" text-anchor="middle" textLength="44.0" lengthAdjust="spacingAndGlyphs" fill="#000">score_threhold=0.5</text>
<text x="151.95" y="157.8" font-size="6.5" text-anchor="middle" textLength="63.3" lengthAdjust="spacingAndGlyphs" fill="#000">class: 92.33% = polypus AP</text>
<text x="315.9" y="151.9" font-size="6.5" text-anchor="middle" textLength="55.2" lengthAdjust="spacingAndGlyphs" fill="#000">class: 0.89 = polypus F1</text>
<text x="315.9" y="157.7" font-size="6.5" text-anchor="middle" textLength="44.0" lengthAdjust="spacingAndGlyphs" fill="#000">score_threhold=0.5</text>
<text x="477" y="151.9" font-size="6.5" text-anchor="middle" textLength="77.6" lengthAdjust="spacingAndGlyphs" fill="#000">class: 95.92% = polypus Precision</text>
<text x="477" y="157.7" font-size="6.5" text-anchor="middle" textLength="44.0" lengthAdjust="spacingAndGlyphs" fill="#000">score_threhold=0.5</text>
<text x="637.9" y="151.9" font-size="6.5" text-anchor="middle" textLength="69.9" lengthAdjust="spacingAndGlyphs" fill="#000">class: 83.63% = polypus Recall</text>
<text x="637.9" y="157.7" font-size="6.5" text-anchor="middle" textLength="44.0" lengthAdjust="spacingAndGlyphs" fill="#000">score_threhold=0.5</text>
<text x="151.95" y="140.8" font-size="4.5" text-anchor="middle" textLength="10.8" lengthAdjust="spacingAndGlyphs" fill="#000">Recall</text>
<text x="151.95" y="271.6" font-size="4.5" text-anchor="middle" textLength="10.8" lengthAdjust="spacingAndGlyphs" fill="#000">Recall</text>
<text x="315.9" y="140.8" font-size="4.5" text-anchor="middle" textLength="28.7" lengthAdjust="spacingAndGlyphs" fill="#000">Score_Threhold</text>
<text x="315.9" y="271.6" font-size="4.5" text-anchor="middle" textLength="28.7" lengthAdjust="spacingAndGlyphs" fill="#000">Score_Threhold</text>
<text x="477" y="140.8" font-size="4.5" text-anchor="middle" textLength="28.7" lengthAdjust="spacingAndGlyphs" fill="#000">Score_Threhold</text>
<text x="477" y="271.6" font-size="4.5" text-anchor="middle" textLength="28.7" lengthAdjust="spacingAndGlyphs" fill="#000">Score_Threhold</text>
<text x="637.9" y="140.8" font-size="4.5" text-anchor="middle" textLength="28.7" lengthAdjust="spacingAndGlyphs" fill="#000">Score_Threhold</text>
<text x="637.9" y="271.6" font-size="4.5" text-anchor="middle" textLength="28.7" lengthAdjust="spacingAndGlyphs" fill="#000">Score_Threhold</text>
<text transform="translate(73.6,79.7) rotate(-90)" x="0" y="0" font-size="4.0" text-anchor="middle" textLength="16.2" lengthAdjust="spacingAndGlyphs" fill="#000">Precision</text>
<text transform="translate(73.6,210.55) rotate(-90)" x="0" y="0" font-size="4.0" text-anchor="middle" textLength="16.2" lengthAdjust="spacingAndGlyphs" fill="#000">Precision</text>
<text transform="translate(237.4,79.7) rotate(-90)" x="0" y="0" font-size="4.0" text-anchor="middle" textLength="4.1" lengthAdjust="spacingAndGlyphs" fill="#000">F1</text>
<text transform="translate(237.4,210.55) rotate(-90)" x="0" y="0" font-size="4.0" text-anchor="middle" textLength="4.1" lengthAdjust="spacingAndGlyphs" fill="#000">F1</text>
<text transform="translate(398.4,79.7) rotate(-90)" x="0" y="0" font-size="4.0" text-anchor="middle" textLength="16.2" lengthAdjust="spacingAndGlyphs" fill="#000">Precision</text>
<text transform="translate(398.4,210.55) rotate(-90)" x="0" y="0" font-size="4.0" text-anchor="middle" textLength="16.2" lengthAdjust="spacingAndGlyphs" fill="#000">Precision</text>
<text transform="translate(558.9,79.7) rotate(-90)" x="0" y="0" font-size="4.0" text-anchor="middle" textLength="10.8" lengthAdjust="spacingAndGlyphs" fill="#000">Recall</text>
<text transform="translate(558.9,210.55) rotate(-90)" x="0" y="0" font-size="4.0" text-anchor="middle" textLength="10.8" lengthAdjust="spacingAndGlyphs" fill="#000">Recall</text>
<text x="149.6" y="11.3" font-size="10.2" font-weight="bold" text-rendering="geometricPrecision" text-anchor="middle" textLength="13.4" lengthAdjust="spacingAndGlyphs" fill="#111">AP</text>
<text x="313.1" y="11.2" font-size="10.2" font-weight="bold" text-rendering="geometricPrecision" text-anchor="middle" textLength="10.4" lengthAdjust="spacingAndGlyphs" fill="#111">F1</text>
<text x="474.3" y="11.2" font-size="10.2" font-weight="bold" text-rendering="geometricPrecision" text-anchor="middle" textLength="6.2" lengthAdjust="spacingAndGlyphs" fill="#111">P</text>
<text x="635.35" y="7.9" font-size="10.2" font-weight="bold" text-rendering="geometricPrecision" text-anchor="middle" textLength="6.9" lengthAdjust="spacingAndGlyphs" fill="#111">R</text>
<text x="40.8" y="83.6" font-size="8.4" font-weight="bold" text-anchor="middle" fill="#111">PANet</text>
<text x="30.5" y="203.1" font-size="8.4" font-weight="bold" text-anchor="middle" fill="#111">Our attentional</text>
<text x="30.5" y="212.9" font-size="8.4" font-weight="bold" text-anchor="middle" fill="#111">feature fusion</text>
<text x="30.5" y="222.7" font-size="8.4" font-weight="bold" text-anchor="middle" fill="#111">modle</text>
</svg></body></html>
